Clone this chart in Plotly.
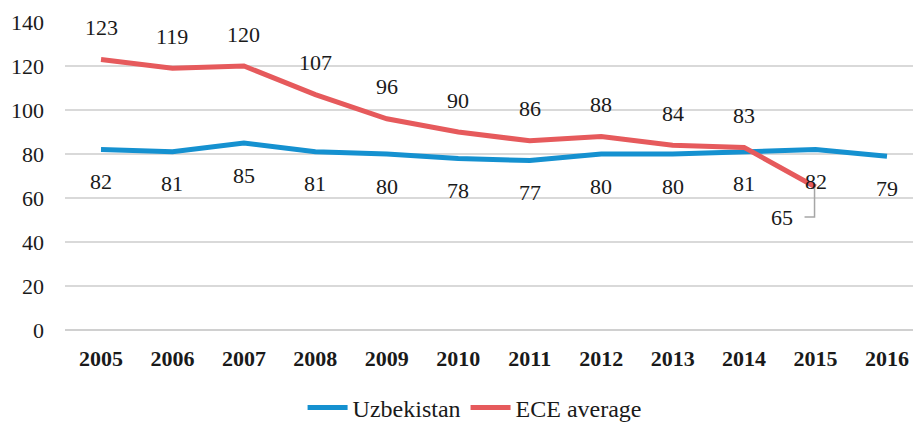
import plotly.graph_objects as go

years = [2005, 2006, 2007, 2008, 2009, 2010, 2011, 2012, 2013, 2014, 2015, 2016]
uzbekistan = [82, 81, 85, 81, 80, 78, 77, 80, 80, 81, 82, 79]
ece_average = [123, 119, 120, 107, 96, 90, 86, 88, 84, 83, 65, None]

BLUE = "#1591D0"
RED = "#E65A5C"
FONT = "Liberation Serif"
TXT = "#1a1a1a"

fig = go.Figure()
fig.add_trace(go.Scatter(x=years, y=uzbekistan, mode="lines", name="Uzbekistan",
                         line=dict(color=BLUE, width=5)))
fig.add_trace(go.Scatter(x=years, y=ece_average, mode="lines", name="ECE average",
                         line=dict(color=RED, width=5)))

# data labels
for x, v in zip(years, uzbekistan):
    fig.add_annotation(x=x, y=v, text=str(v), showarrow=False, yshift=-32,
                       font=dict(family=FONT, size=22, color=TXT))
for x, v in zip(years, ece_average):
    if v is None:
        continue
    if x == 2015:
        fig.add_annotation(x=x, y=v, text=str(v), showarrow=False, xshift=-34, yshift=-30,
                           font=dict(family=FONT, size=22, color=TXT))
        fig.add_shape(type="path", xref="x", yref="y", xsizemode="pixel", ysizemode="pixel",
                      xanchor=x, yanchor=v, path="M-1,0 L-1,-30 L-11,-30",
                      line=dict(color="#A6A6A6", width=1.5))
    else:
        fig.add_annotation(x=x, y=v, text=str(v), showarrow=False, yshift=32,
                           font=dict(family=FONT, size=22, color=TXT))

fig.update_layout(
    width=913, height=422,
    margin=dict(l=65, r=0, t=22, b=92, autoexpand=False),
    paper_bgcolor="white", plot_bgcolor="white",
    font=dict(family=FONT, size=22, color=TXT),
    showlegend=True,
    legend=dict(orientation="h", x=0.483, xanchor="center", y=-0.253, yanchor="middle",
                font=dict(family=FONT, size=24, color=TXT), itemwidth=40),
)
fig.update_xaxes(range=[2004.496, 2016.364], tickmode="array", tickvals=years,
                 ticktext=[str(y) for y in years], showgrid=False, zeroline=False,
                 showline=False, ticks="", ticklabelstandoff=13, automargin=False,
                 ticklabeloverflow="allow",
                 tickfont=dict(family=FONT, size=22, color=TXT, weight="bold"))
fig.update_yaxes(range=[0, 140], dtick=20, showgrid=True, gridcolor="#D9D9D9", gridwidth=1.5,
                 zeroline=True, zerolinecolor="#D0D0D0", zerolinewidth=1.5, showline=False,
                 ticks="", ticklabelstandoff=20, automargin=False,
                 tickfont=dict(family=FONT, size=22, color=TXT))

fig.write_html("out.html", config={"displayModeBar": False},
               post_script="document.body.style.margin='0';document.body.style.overflow='hidden';")
